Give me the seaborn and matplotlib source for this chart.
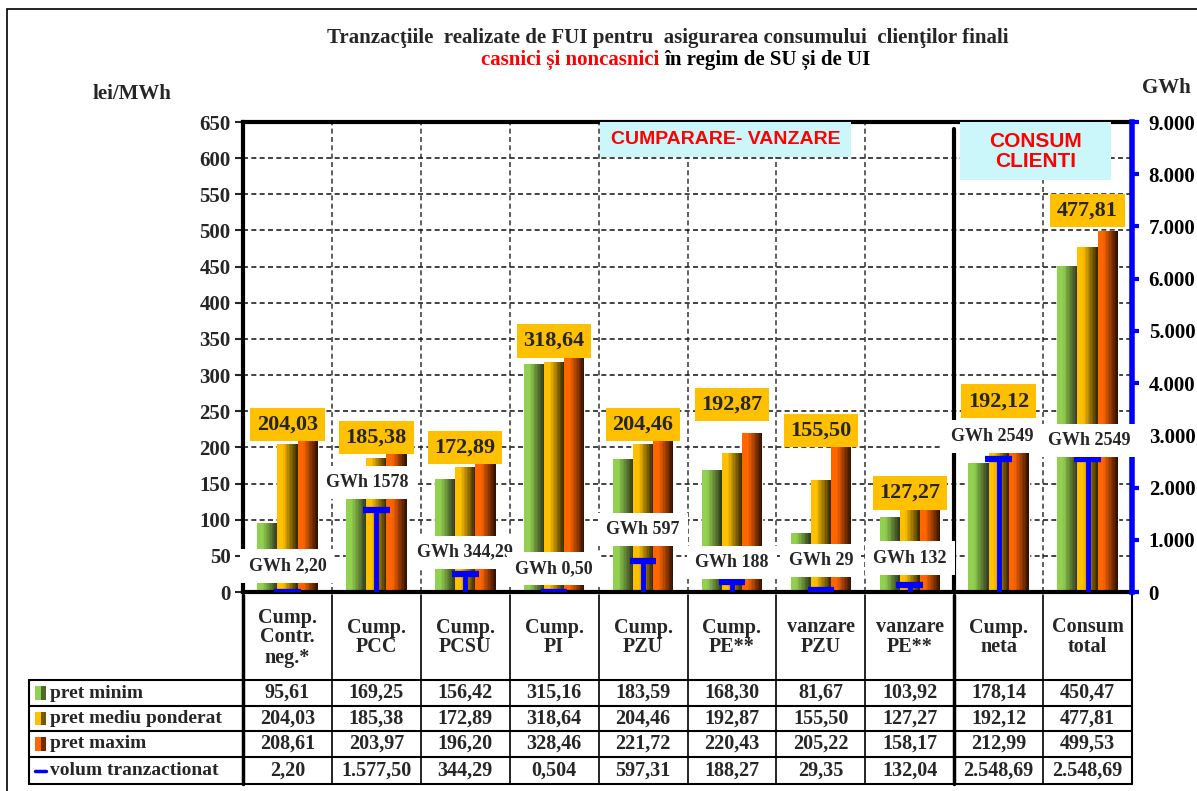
import numpy as np
import pandas as pd
import seaborn as sns
import matplotlib.pyplot as plt
from matplotlib.colors import to_rgb
from matplotlib.patches import Rectangle
from matplotlib.ticker import FuncFormatter
import matplotlib.transforms as mtransforms

# Data
categories = ['Cump.\nContr.\nneg.*', 'Cump.\nPCC', 'Cump.\nPCSU', 'Cump.\nPI', 'Cump.\nPZU',
              'Cump.\nPE**', 'vanzare\nPZU', 'vanzare\nPE**', 'Cump.\nneta', 'Consum\ntotal']
pret_minim = [95.61, 169.25, 156.42, 315.16, 183.59, 168.30, 81.67, 103.92, 178.14, 450.47]
pret_mediu = [204.03, 185.38, 172.89, 318.64, 204.46, 192.87, 155.50, 127.27, 192.12, 477.81]
pret_maxim = [208.61, 203.97, 196.20, 328.46, 221.72, 220.43, 205.22, 158.17, 212.99, 499.53]
volum = [2.20, 1577.50, 344.29, 0.504, 597.31, 188.27, 29.35, 132.04, 2548.69, 2548.69]

# table text as printed
txt_minim = ['95,61', '169,25', '156,42', '315,16', '183,59', '168,30', '81,67', '103,92', '178,14', '450,47']
txt_mediu = ['204,03', '185,38', '172,89', '318,64', '204,46', '192,87', '155,50', '127,27', '192,12', '477,81']
txt_maxim = ['208,61', '203,97', '196,20', '328,46', '221,72', '220,43', '205,22', '158,17', '212,99', '499,53']
txt_volum = ['2,20', '1.577,50', '344,29', '0,504', '597,31', '188,27', '29,35', '132,04', '2.548,69', '2.548,69']
gwh_labels = ['GWh 2,20', 'GWh 1578', 'GWh 344,29', 'GWh 0,50', 'GWh 597',
              'GWh 188', 'GWh 29', 'GWh 132', 'GWh 2549', 'GWh 2549']
series = ['pret minim', 'pret mediu ponderat', 'pret maxim']

# label positions (lei/MWh scale)
mean_label_y = [232, 214, 200, 347, 232, 259, 223, 137, 264, 528]
gwh_label_y = [36, 151, 55, 32, 86, 41, 44, 47, 215, 210]
gwh_label_x = [0, -0.1, 0, 0, 0, 0, 0, 0, -0.07, 0.02]

df = pd.DataFrame({
    'cat': categories * 3,
    'serie': np.repeat(series, len(categories)),
    'val': pret_minim + pret_mediu + pret_maxim,
})

base_cols = {'pret minim': '#92D050', 'pret mediu ponderat': '#FFC000', 'pret maxim': '#FF6600'}
dark_cols = {'pret minim': '#333d1c', 'pret mediu ponderat': '#3a2c00', 'pret maxim': '#361200'}

sns.set_style('white')
plt.rcParams['font.family'] = ['Liberation Serif', 'DejaVu Serif']
plt.rcParams['font.weight'] = 'bold'

fig = plt.figure(figsize=(11.97, 7.91), dpi=100)
W, H = 1197, 791
ax = fig.add_axes([243 / W, 1 - 592 / H, (1132 - 243) / W, (592 - 122) / H])

sns.barplot(data=df, x='cat', y='val', hue='serie', hue_order=series,
            palette=base_cols, saturation=1, width=0.68, ax=ax, legend=False, zorder=2)

# gradient look: split every bar into thin slices going from bright to dark
n_slices = 14
bars = [p for p in ax.patches if isinstance(p, Rectangle) and p.get_height() > 0]
bars = sorted(bars, key=lambda p: p.get_x())
for p in bars:
    x0, w, h = p.get_x(), p.get_width(), p.get_height()
    k = int(np.argmin([np.abs(np.array(p.get_facecolor()[:3]) - np.array(to_rgb(base_cols[s]))).sum()
                       for s in series]))
    c0 = np.array(to_rgb(base_cols[series[k]]))
    c1 = np.array(to_rgb(dark_cols[series[k]]))
    sw = w / n_slices
    lefts = x0 + sw * np.arange(n_slices)
    t = np.clip((np.arange(n_slices) + 0.5) / n_slices * 1.45 - 0.4, 0, 1)
    cols = [tuple(c0 + (c1 - c0) * ti) for ti in t]
    ax.bar(lefts, h, width=sw * 1.02, align='edge', color=cols, linewidth=0, zorder=2.1)

ax.set_xlim(-0.5, 9.5)
ax.set_ylim(0, 650)
ax.set_yticks(np.arange(0, 651, 50))
ax.set_xticks([])
ax.set_xlabel('')
ax.set_ylabel('')
ax.tick_params(axis='y', labelsize=15, length=6, width=1.5, direction='out', pad=3)
for lab in ax.get_yticklabels():
    lab.set_fontweight('bold')

ax.yaxis.grid(True, linestyle=(0, (3, 2)), color='#222222', lw=1.2, zorder=0)
ax.set_axisbelow(True)
for xb in np.arange(0.5, 9.5, 1.0):
    if xb == 7.5:
        ax.axvline(xb, ymin=0, ymax=0.985, color='black', lw=3, zorder=1)
    else:
        ax.axvline(xb, color='#444444', lw=1.2, linestyle=(0, (3, 2)), zorder=0)

for sp in ['left', 'top', 'bottom']:
    ax.spines[sp].set_linewidth(3)
    ax.spines[sp].set_color('black')
ax.spines['right'].set_visible(False)

# secondary axis with volume
ax2 = ax.twinx()
ax2.set_ylim(0, 9000)
ax2.set_yticks(np.arange(0, 9001, 1000))
ax2.yaxis.set_major_formatter(FuncFormatter(lambda v, _: f'{int(v):,}'.replace(',', '.')))
ax2.spines['right'].set_color('blue')
ax2.spines['right'].set_linewidth(4)
for sp in ['left', 'top', 'bottom']:
    ax2.spines[sp].set_visible(False)
ax2.tick_params(axis='y', labelcolor='black', color='blue', labelsize=15, length=5, width=3, pad=7)
for lab in ax2.get_yticklabels():
    lab.set_fontweight('bold')

xs = np.arange(len(categories))
ax2.vlines(xs, 0, volum, color='blue', lw=3.5, zorder=5)
ax2.hlines(volum, xs - 0.15, xs + 0.15, color='blue', lw=4.5, zorder=5)

# labels
for i in range(len(categories)):
    ax2.text(i, mean_label_y[i], txt_mediu[i], transform=ax.transData, ha='center', va='center',
             fontsize=16, fontweight='bold', zorder=10,
             bbox=dict(boxstyle='square,pad=0.3', fc='#FFC000', ec='none'))
    ax2.text(i + gwh_label_x[i], gwh_label_y[i], gwh_labels[i], transform=ax.transData, ha='center',
             va='center', fontsize=13, fontweight='bold', zorder=9,
             bbox=dict(boxstyle='square,pad=0.45', fc='white', ec='none'))

mix = mtransforms.blended_transform_factory(ax.transData, ax.transAxes)
ax2.add_patch(Rectangle((3.52, 0.926), 2.82, 0.074, transform=mix, fc='#CCF7FA', ec='none', zorder=9))
ax2.text(4.93, 0.963, 'CUMPARARE- VANZARE', transform=mix,
         ha='center', va='center', fontsize=14, color='red', fontweight='bold',
         family=['Liberation Sans', 'DejaVu Sans'], zorder=10)
ax2.add_patch(Rectangle((7.57, 0.877), 1.69, 0.123, transform=mix, fc='#CCF7FA', ec='none', zorder=9))
ax2.text(8.42, 0.938, 'CONSUM\nCLIENTI', transform=mix,
         ha='center', va='center', fontsize=15, color='red', fontweight='bold', linespacing=1.05,
         family=['Liberation Sans', 'DejaVu Sans'], zorder=10)

# data table under the plot
def fy(px):
    return (592 - px) / 470

row_edges = [fy(595), fy(680), fy(706), fy(731), fy(757), fy(784)]
x_left = -0.5 - (243 - 29) / 88.9
col_edges = np.arange(-0.5, 10.0, 1.0)

for xe in col_edges:
    lw = 2.5 if xe in (-0.5, 7.5) else 1.2
    if xe == 9.5:
        lw = 1.5
    ax.plot([xe, xe], [row_edges[0], row_edges[-1]], color='black', lw=lw, transform=mix, clip_on=False)
ax.plot([x_left, x_left], [row_edges[1], row_edges[-1]], color='black', lw=1.5, transform=mix, clip_on=False)
for ye in row_edges[1:]:
    ax.plot([x_left, 9.5], [ye, ye], color='black', lw=1.5, transform=mix, clip_on=False)

for i, c in enumerate(categories):
    ax.text(i, (row_edges[0] + row_edges[1]) / 2, c, transform=mix, ha='center', va='center',
            fontsize=14.5, fontweight='bold', linespacing=1.0, clip_on=False)

rows = [txt_minim, txt_mediu, txt_maxim, txt_volum]
row_names = series + ['volum tranzactionat']
for r, vals in enumerate(rows):
    yc = (row_edges[r + 1] + row_edges[r + 2]) / 2
    for i, v in enumerate(vals):
        ax.text(i, yc, v, transform=mix, ha='center', va='center', fontsize=14.5, fontweight='bold', clip_on=False)
    ax.text(x_left + 0.24, yc, row_names[r], transform=mix,
            ha='left', va='center', fontsize=14, fontweight='bold', clip_on=False)
    if r < 3:
        ax.add_patch(Rectangle((x_left + 0.07, yc - 0.014), 0.12, 0.028, transform=mix, clip_on=False,
                               fc=base_cols[series[r]], ec='none'))
        ax.add_patch(Rectangle((x_left + 0.13, yc - 0.014), 0.06, 0.028, transform=mix, clip_on=False,
                               fc=dark_cols[series[r]], ec='none', alpha=0.7))
    else:
        ax.plot([x_left + 0.07, x_left + 0.19], [yc, yc], color='blue', lw=2.5, transform=mix, clip_on=False)

# titles and axis units
fig.text(668 / W, 1 - 38 / H, 'Tranzacţiile  realizate de FUI pentru  asigurarea consumului  clienţilor finali',
         ha='center', va='center', fontsize=15, fontweight='bold')
fig.text(668 / W - 0.003, 1 - 60 / H, 'casnici și noncasnici ', ha='right', va='center',
         fontsize=15, fontweight='bold', color='red')
fig.text(668 / W - 0.003, 1 - 60 / H, 'în regim de SU și de UI', ha='left', va='center',
         fontsize=15, fontweight='bold', color='black')
fig.text(132 / W, 1 - 94 / H, 'lei/MWh', ha='center', va='center', fontsize=15, fontweight='bold')
fig.text(1166 / W, 1 - 88 / H, 'GWh', ha='center', va='center', fontsize=15, fontweight='bold')

# outer frame
fig.add_artist(Rectangle((7 / W, -0.01), 1.0, 1 - 9 / H + 0.01, transform=fig.transFigure,
                         fill=False, ec='black', lw=1.2))

fig.savefig('out.png', dpi=100)
